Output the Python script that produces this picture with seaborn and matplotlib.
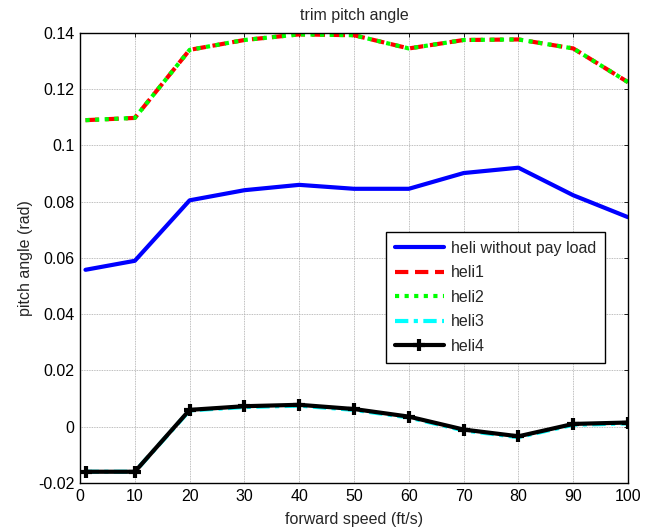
import matplotlib
matplotlib.use("Agg")
import matplotlib.pyplot as plt
import seaborn as sns
import pandas as pd

# forward speed (ft/s)
speed = [1, 10, 20, 30, 40, 50, 60, 70, 80, 90, 100]

# trim pitch angle (rad) per configuration
heli_no_load = [0.0558, 0.0590, 0.0805, 0.0841, 0.0860, 0.0846, 0.0846, 0.0902, 0.0921, 0.0823, 0.0745]
heli1 = [0.1090, 0.1098, 0.1340, 0.1375, 0.1395, 0.1392, 0.1345, 0.1375, 0.1377, 0.1345, 0.1225]
heli2 = [0.1090, 0.1098, 0.1340, 0.1375, 0.1395, 0.1392, 0.1345, 0.1375, 0.1377, 0.1345, 0.1225]
heli3 = [-0.0160, -0.0160, 0.0058, 0.0070, 0.0075, 0.0060, 0.0033, -0.0013, -0.0037, 0.0007, 0.0012]
heli4 = [-0.0160, -0.0160, 0.0060, 0.0073, 0.0078, 0.0063, 0.0036, -0.0010, -0.0034, 0.0010, 0.0015]

labels = ["heli without pay load", "heli1", "heli2", "heli3", "heli4"]
yticks = [-0.02, 0, 0.02, 0.04, 0.06, 0.08, 0.1, 0.12, 0.14]
ytick_labels = ["-0.02", "0", "0.02", "0.04", "0.06", "0.08", "0.1", "0.12", "0.14"]
xticks = [0, 10, 20, 30, 40, 50, 60, 70, 80, 90, 100]

sns.set_style("white")
plt.rcParams["font.family"] = ["Liberation Sans", "DejaVu Sans"]

FS = 11.5

fig = plt.figure(figsize=(6.48, 5.31), dpi=100)
ax = fig.add_axes([0.1235, 0.0904, 0.8457, 0.8475])

series = [heli_no_load, heli1, heli2, heli3, heli4]
styles = [
    dict(color="#0000ff", linestyle="-"),
    dict(color="#ff0000", linestyle=(0, (3.2, 1.6))),
    dict(color="#00ff00", linestyle=(0, (1.0, 1.3))),
    dict(color="#00ffff", linestyle=(0, (3.2, 1.3, 1.0, 1.3))),
    dict(color="#000000", linestyle="-", marker="+", markersize=8,
         markeredgewidth=3.0, markeredgecolor="#000000"),
]
for vals, lab, st in zip(series, labels, styles):
    df = pd.DataFrame({"speed": speed, "pitch": vals})
    sns.lineplot(data=df, x="speed", y="pitch", ax=ax, label=lab,
                 linewidth=3.0, **st)

ax.set_xlim(0, 100)
ax.set_ylim(-0.02, 0.14)
ax.set_xticks(xticks)
ax.set_yticks(yticks)
ax.set_yticklabels(ytick_labels)
ax.grid(True, color="#a8a8a8", linewidth=0.6, linestyle=(0, (1, 1)))
ax.set_axisbelow(True)
ax.tick_params(direction="in", top=True, right=True, length=3, width=0.6,
               labelsize=FS, colors="black", pad=4)
for sp in ax.spines.values():
    sp.set_color("black")
    sp.set_linewidth(1.0)

ax.set_title("trim pitch angle", fontsize=FS, pad=9)
ax.set_xlabel("forward speed (ft/s)", fontsize=FS, labelpad=6)
ax.set_ylabel("pitch angle (rad)", fontsize=FS, labelpad=4)

leg = ax.legend(loc="upper left", bbox_to_anchor=(0.558, 0.558), fontsize=FS,
                frameon=True, fancybox=False, edgecolor="black", framealpha=1,
                handlelength=3.1, borderpad=0.55, labelspacing=0.6,
                handletextpad=0.4, borderaxespad=0)
leg.get_frame().set_linewidth(1.0)

fig.savefig("out.png", dpi=100)
